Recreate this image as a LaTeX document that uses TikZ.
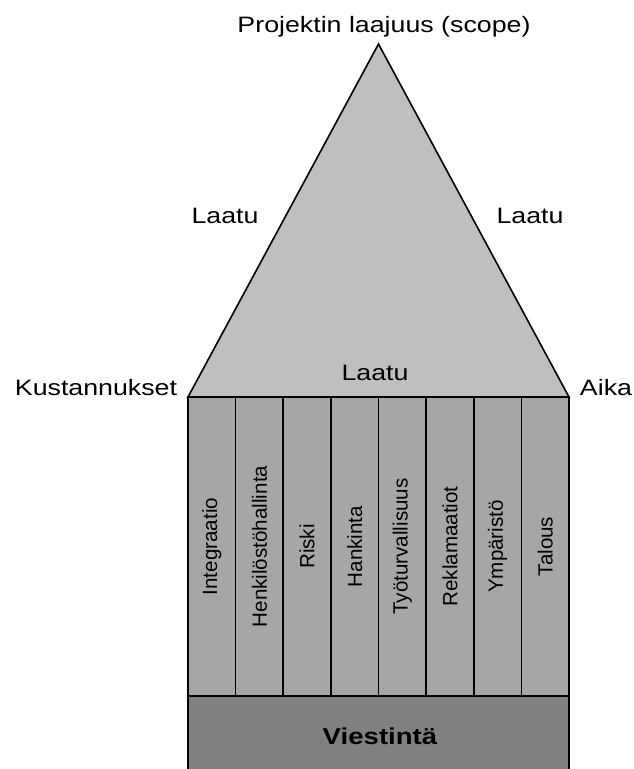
\documentclass[tikz,border=0pt]{standalone}
\usepackage{fontspec}
\setmainfont{Liberation Sans}[FakeStretch=1.2]
\newfontfamily\colfont{Liberation Sans}
\definecolor{roofgray}{gray}{0.75}
\definecolor{pillargray}{gray}{0.65}
\definecolor{basegray}{gray}{0.5}

\begin{document}
\begin{tikzpicture}[x=1pt,y=-1pt,
  lbl/.style={font=\fontsize{22.3}{26}\selectfont, anchor=base, inner sep=0pt},
  pillar/.style={draw, fill=pillargray, line width=1.6pt, rotate=90, inner sep=0pt,
    minimum width=299pt, minimum height=47.625pt, font=\colfont\fontsize{20.6}{24}\selectfont}]
\useasboundingbox (0,0) rectangle (633,769);
\filldraw[fill=roofgray, line width=1.6pt] (188,397) -- (378.5,44) -- (569,397) -- cycle;
\filldraw[fill=basegray, line width=1.6pt] (188,696) rectangle (569,775);
\foreach \t [count=\i from 0] in {Integraatio,Henkilöstöhallinta,Riski,Hankinta,Työturvallisuus,Reklamaatiot,Ympäristö,Talous}
  \node[pillar] (p\i) at ({188+47.625*(\i+0.5)},546.5) {\t};
\node[lbl] (scope) at (384,32) {Projektin laajuus (scope)};
\node[lbl] (cost) at (96,395) {Kustannukset};
\node[lbl] (time) at (606,395) {Aika};
\node[lbl] (qleft) at (225,223) {Laatu};
\node[lbl] (qright) at (530,223) {Laatu};
\node[lbl] (qbase) at (375,380.5) {Laatu};
\node[lbl, font=\bfseries\fontsize{23}{27}\selectfont] (comm) at (380,744) {Viestintä};
\end{tikzpicture}
\end{document}
